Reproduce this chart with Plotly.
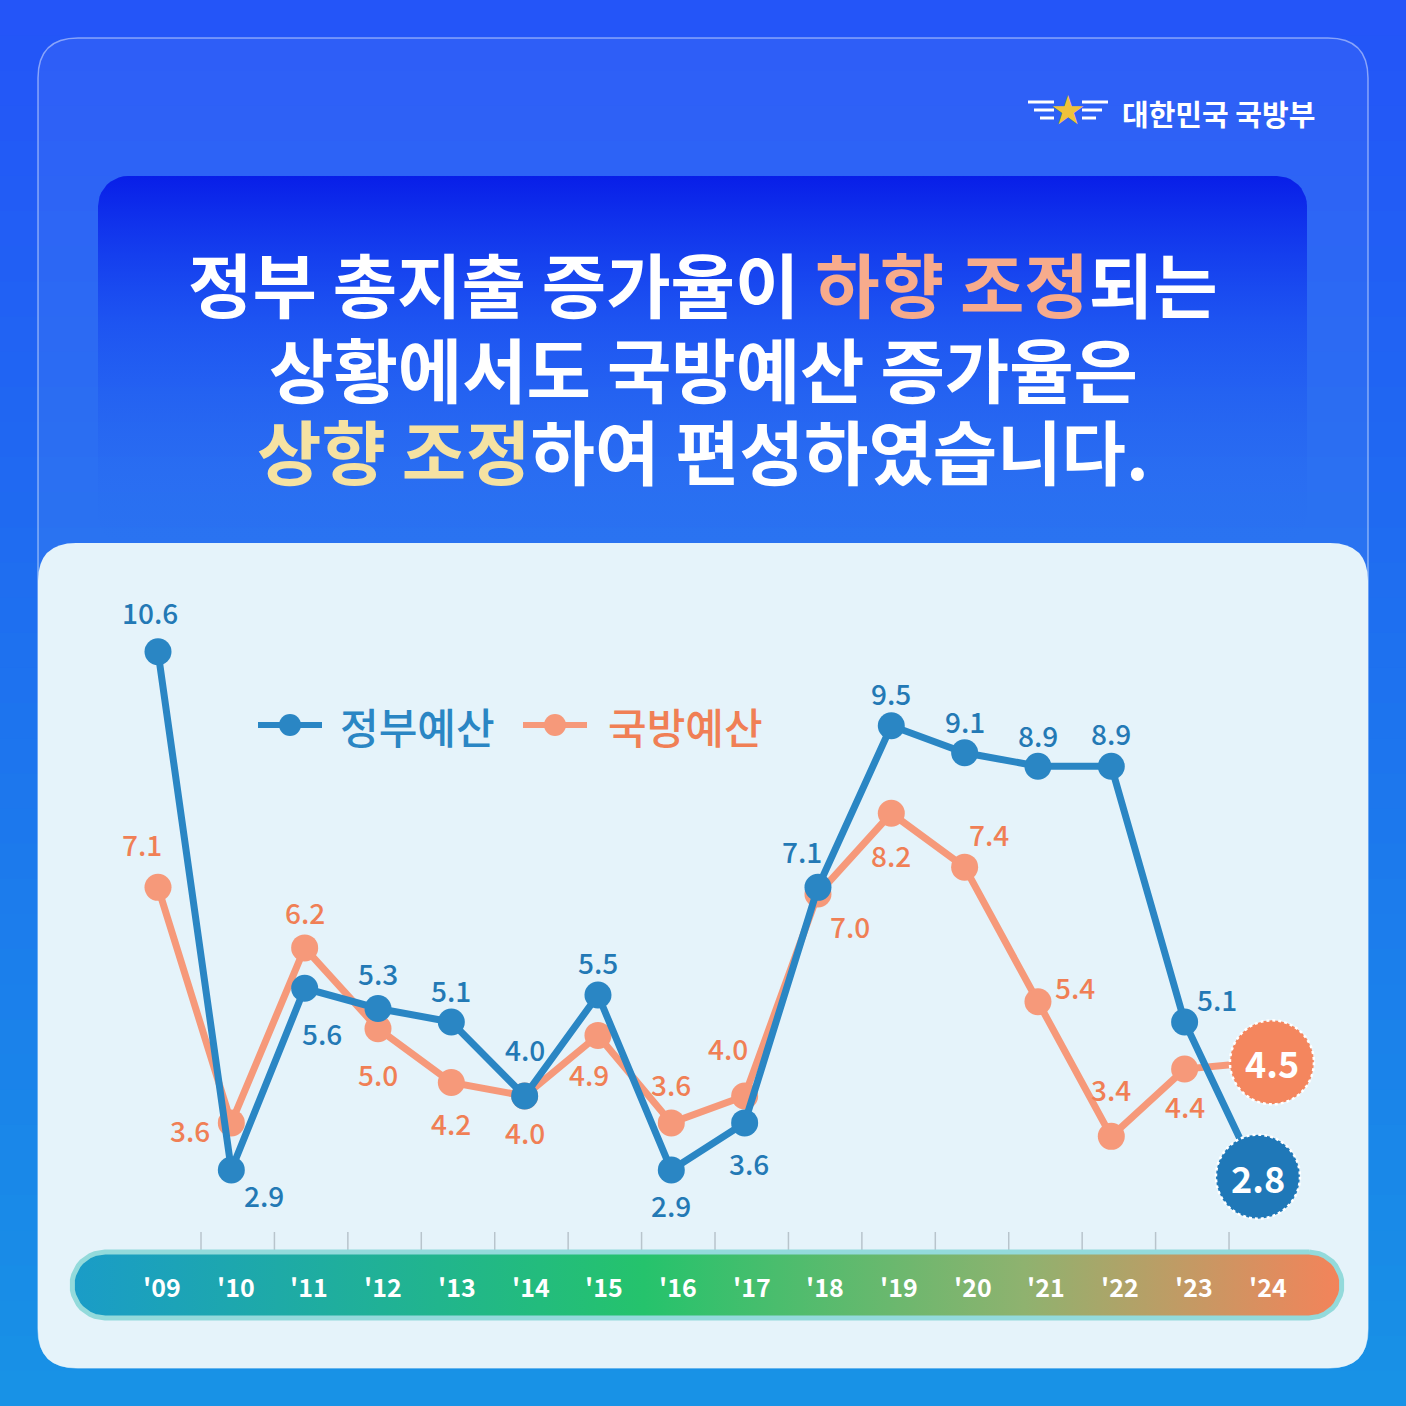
import math
import plotly.graph_objects as go

W = H = 1406

years = ["'09", "'10", "'11", "'12", "'13", "'14", "'15", "'16",
         "'17", "'18", "'19", "'20", "'21", "'22", "'23", "'24"]
gov = [10.6, 2.9, 5.6, 5.3, 5.1, 4.0, 5.5, 2.9, 3.6, 7.1, 9.5, 9.1, 8.9, 8.9, 5.1, 2.8]
mnd = [7.1, 3.6, 6.2, 5.0, 4.2, 4.0, 4.9, 3.6, 4.0, 7.0, 8.2, 7.4, 5.4, 3.4, 4.4, 4.5]

# label offsets in pixels (dx, dy downward)
gov_off = [(-8, -40), (33, 25), (17, 45), (0, -35), (0, -32), (0, -47), (0, -33), (0, 35),
           (4, 40), (-16, -36), (0, -33), (0, -32), (0, -31), (0, -33), (32, -23), (0, 0)]
mnd_off = [(-16, -43), (-41, 7), (0, -36), (0, 45), (0, 40), (0, 36), (-9, 39), (0, -39),
           (-17, -48), (32, 32), (0, 42), (24, -33), (37, -15), (0, -47), (0, 37), (0, 0)]

BLUE = "#2a86c4"
ORANGE = "#f6997a"
ORANGE_T = "#f07f55"
FONT = "Noto Sans CJK KR"

# axis mapping: index i -> px 158 + i*73.33 ; value v -> py 1170 - (v-2.9)*67.3
SX, X0 = 73.33, 158
SY, Y0 = 67.3, 1170
xr = [-X0 / SX, (W - X0) / SX]
yr = [2.9 - (H - Y0) / SY, 2.9 + Y0 / SY]


def P(px, py):
    return px / W, 1 - py / H


def D(px, py):
    return (px - X0) / SX, 2.9 + (Y0 - py) / SY


def rrect(x0, y0, x1, y1, r):
    a, b = P(x0, y0)
    c, d = P(x1, y1)
    rx, ry = r / W, r / H
    return (f"M{a+rx},{b} L{c-rx},{b} Q{c},{b} {c},{b-ry} L{c},{d+ry} Q{c},{d} {c-rx},{d} "
            f"L{a+rx},{d} Q{a},{d} {a},{d+ry} L{a},{b-ry} Q{a},{b} {a+rx},{b} Z")


def rr_pts(x0, y0, x1, y1, r):
    pts = []
    for cx, cy, a0 in [(x1 - r, y0 + r, 90), (x1 - r, y1 - r, 0), (x0 + r, y1 - r, -90), (x0 + r, y0 + r, 180)]:
        for k in range(11):
            ang = math.radians(a0 - 9 * k)
            pts.append(D(cx + r * math.cos(ang), cy - r * math.sin(ang)))
    pts.append(pts[0])
    return [p[0] for p in pts], [p[1] for p in pts]


fig = go.Figure()
shapes = []

# background bands
N = 40
for k in range(N):
    t = k / (N - 1)
    r = int(0x24 + (0x18 - 0x24) * t)
    g = int(0x55 + (0x92 - 0x55) * t)
    b = int(0xf8 + (0xe6 - 0xf8) * t)
    x0, y0 = P(0, k * H / N)
    x1, y1 = P(W, (k + 1) * H / N + 1)
    shapes.append(dict(type="rect", xref="paper", yref="paper", x0=x0, x1=x1, y0=y1, y1=y0,
                       fillcolor=f"rgb({r},{g},{b})", line_width=0, layer="below"))
shapes.append(dict(type="path", xref="paper", yref="paper", path=rrect(38, 38, 1368, 1368, 40),
                   fillcolor="rgba(255,255,255,0.05)", line=dict(color="rgba(255,255,255,0.45)", width=1.5),
                   layer="below"))
# inner panel
shapes.append(dict(type="path", xref="paper", yref="paper", path=rrect(38, 543, 1368, 1368, 38),
                   fillcolor="#e5f3fa", line_width=0, layer="below"))
# ticks
for i in range(15):
    px = 201 + i * 73.43
    a, b = P(px, 1232)
    c, d = P(px, 1250)
    shapes.append(dict(type="line", xref="paper", yref="paper", x0=a, x1=c, y0=b, y1=d,
                       line=dict(color="#b8c4cc", width=1.5), layer="below"))
# legend
for lx, col in [(290, BLUE), (555, ORANGE)]:
    a, b = P(lx - 32, 725)
    c, d = P(lx + 32, 725)
    shapes.append(dict(type="line", xref="paper", yref="paper", x0=a, x1=c, y0=b, y1=d,
                       line=dict(color=col, width=6)))
    a, b = P(lx - 11, 714)
    c, d = P(lx + 11, 736)
    shapes.append(dict(type="circle", xref="paper", yref="paper", x0=a, x1=c, y0=d, y1=b,
                       fillcolor=col, line_width=0))

# title box vertical gradient
tx, ty = rr_pts(98, 176, 1307, 545, 30)
fig.add_trace(go.Scatter(
    x=tx, y=ty, mode="lines", fill="toself", line=dict(width=0, color="rgba(0,0,0,0)"),
    fillgradient=dict(type="vertical",
                      colorscale=[[0, "rgba(40,110,240,0)"], [0.6, "rgba(20,70,240,0.6)"], [1, "rgba(8,30,232,1)"]]),
    hoverinfo="skip", showlegend=False))

# bottom gradient pill
bx0, bx1, by0, by1 = 72, 1342, 1252, 1318
px_, py_ = rr_pts(bx0, by0, bx1, by1, (by1 - by0) / 2)
fig.add_trace(go.Scatter(
    x=px_, y=py_, mode="lines", fill="toself", line=dict(color="#93dadb", width=5),
    fillgradient=dict(type="horizontal",
                      colorscale=[[0, "#1a9cc8"], [0.45, "#25c36c"], [0.75, "#8fb26f"], [1, "#f4835a"]]),
    hoverinfo="skip", showlegend=False))

idx = list(range(len(years)))
fig.add_trace(go.Scatter(x=idx, y=mnd, mode="lines+markers",
                         line=dict(color=ORANGE, width=7), marker=dict(size=27, color=ORANGE),
                         showlegend=False))
fig.add_trace(go.Scatter(x=idx, y=gov, mode="lines+markers",
                         line=dict(color=BLUE, width=7), marker=dict(size=27, color=BLUE),
                         showlegend=False))

# big end circles
for val, col, dx in [(mnd[-1], "#f4865e", 14), (gov[-1], "#1f78b8", 0)]:
    cx = idx[-1] + dx / SX
    rx, ry = 42 / SX, 42 / SY
    shapes.append(dict(type="circle", x0=cx - rx, x1=cx + rx, y0=val - ry, y1=val + ry,
                       fillcolor=col, line=dict(color="white", width=2.5, dash="dot")))

C = dict(showarrow=False, xanchor="center", yanchor="middle")
ann = []
for i in range(len(years) - 1):
    ann.append(dict(x=i, y=gov[i], text=str(gov[i]), xshift=gov_off[i][0], yshift=-gov_off[i][1],
                    font=dict(size=28, color="#2379b5", family=FONT, weight=500), **C))
    ann.append(dict(x=i, y=mnd[i], text=str(mnd[i]), xshift=mnd_off[i][0], yshift=-mnd_off[i][1],
                    font=dict(size=28, color=ORANGE_T, family=FONT, weight=500), **C))
ann.append(dict(x=idx[-1], y=gov[-1], text="<b>" + str(gov[-1]) + "</b>",
                font=dict(size=36, color="white", family=FONT), **C))
ann.append(dict(x=idx[-1] + 14 / SX, y=mnd[-1], text="<b>" + str(mnd[-1]) + "</b>",
                font=dict(size=36, color="white", family=FONT), **C))
for i, yl in enumerate(years):
    a, b = P(162 + i * 73.7, 1286)
    ann.append(dict(xref="paper", yref="paper", x=a, y=b, text=f"<b>{yl}</b>",
                    font=dict(size=25, color="white", family=FONT), **C))

# legend text
for lx, txt, col in [(338, "정부예산", BLUE), (606, "국방예산", ORANGE_T)]:
    a, b = P(lx, 725)
    ann.append(dict(xref="paper", yref="paper", x=a, y=b, text=txt, showarrow=False,
                    xanchor="left", yanchor="middle",
                    font=dict(size=42, color=col, family=FONT, weight=500)))

# title
title_lines = [
    (283, "정부 총지출 증가율이 <span style='color:#f7ab8c'>하향 조정</span>되는"),
    (367, "상황에서도 국방예산 증가율은"),
    (450, "<span style='color:#f5e2a2'>상향 조정</span>하여 편성하였습니다."),
]
for py, txt in title_lines:
    a, b = P(703, py)
    ann.append(dict(xref="paper", yref="paper", x=a, y=b, text=f"<b>{txt}</b>",
                    font=dict(size=70, color="white", family=FONT), **C))
a, b = P(1218, 113)
ann.append(dict(xref="paper", yref="paper", x=a, y=b, text="<b>대한민국 국방부</b>",
                font=dict(size=29, color="white", family=FONT), **C))
a, b = P(1068, 110)
ann.append(dict(xref="paper", yref="paper", x=a, y=b, text="★",
                font=dict(size=40, color="#f0c23a", family="DejaVu Sans"), **C))
for sx in (-1, 1):
    for k in range(3):
        a, b = P(1068 + sx * 14, 102 + k * 8)
        c, d = P(1068 + sx * (40 - k * 6), 102 + k * 8)
        shapes.append(dict(type="line", xref="paper", yref="paper", x0=a, x1=c, y0=b, y1=d,
                           line=dict(color="white", width=3)))

fig.update_layout(
    width=W, height=H, margin=dict(l=0, r=0, t=0, b=0),
    paper_bgcolor="#2266f0", plot_bgcolor="rgba(0,0,0,0)",
    xaxis=dict(range=xr, visible=False, domain=[0, 1], fixedrange=True),
    yaxis=dict(range=yr, visible=False, domain=[0, 1], fixedrange=True),
    shapes=shapes, annotations=ann, font=dict(family=FONT),
)
fig.write_html("out.html", config={"displayModeBar": False},
               post_script="document.body.style.margin='0';")
